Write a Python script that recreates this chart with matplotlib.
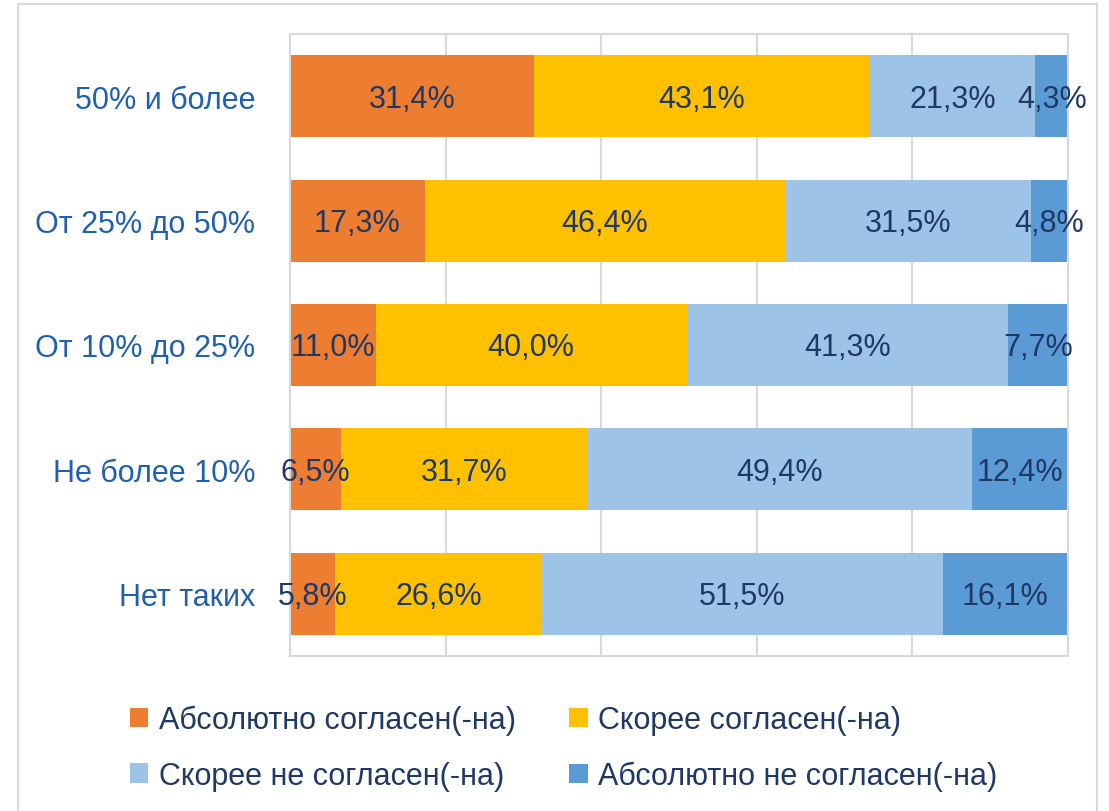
import numpy as np
import matplotlib
matplotlib.use("Agg")
from matplotlib import pyplot as plt
from matplotlib.patches import Rectangle

plt.rcParams["font.family"] = ["Liberation Sans", "DejaVu Sans"]

# data, top to bottom
categories = ["50% и более", "От 25% до 50%", "От 10% до 25%", "Не более 10%", "Нет таких"]
series_names = [
    "Абсолютно согласен(-на)",
    "Скорее согласен(-на)",
    "Скорее не согласен(-на)",
    "Абсолютно не согласен(-на)",
]
abs_agree = [31.4, 17.3, 11.0, 6.5, 5.8]
rather_agree = [43.1, 46.4, 40.0, 31.7, 26.6]
rather_disagree = [21.3, 31.5, 41.3, 49.4, 51.5]
abs_disagree = [4.3, 4.8, 7.7, 12.4, 16.1]

colors = ["#ED7D31", "#FFC000", "#9DC3E6", "#5B9BD5"]
label_color = "#1F3864"
cat_color = "#2160AD"
grid_color = "#D9D9D9"

fig = plt.figure(figsize=(11.09, 8.12), dpi=100)
ax = fig.add_axes([0.2615, 0.1909, 0.7016, 0.766])

# outer frame of the chart
fig.patches.append(Rectangle((18 / 1109, -0.02), (1097 - 18) / 1109, 1.02 - 5 / 812,
                             transform=fig.transFigure, fill=False,
                             edgecolor="#D9D9D9", linewidth=1.5))

y = np.arange(len(categories))
left = np.zeros(len(categories))
bars = []
for name, vals, c in zip(series_names, [abs_agree, rather_agree, rather_disagree, abs_disagree], colors):
    vals = np.array(vals)
    bars.append(ax.barh(y, vals, left=left, height=0.66, color=c, label=name, zorder=2))
    for yi, l, v in zip(y, left, vals):
        ax.text(l + v / 2, yi + 0.02, f"{v:.1f}%".replace(".", ","), ha="center", va="center",
                fontsize=22, color=label_color, zorder=3)
    left += vals

ax.set_xlim(0, 100)
ax.set_ylim(len(categories) - 0.5, -0.5)
ax.set_yticks(y)
ax.set_yticklabels(categories, fontsize=22, color=cat_color)
ax.tick_params(axis="y", length=0, pad=25)
ax.set_xticks(np.arange(0, 101, 20))
ax.tick_params(axis="x", length=0, labelbottom=False)
ax.grid(axis="x", color=grid_color, linewidth=1.5, zorder=0)
for s in ax.spines.values():
    s.set_color(grid_color)
    s.set_linewidth(1.5)

# legend filled row by row like the original
order = [0, 2, 1, 3]
leg = fig.legend([bars[i] for i in order], [series_names[i] for i in order],
                 loc="upper left", bbox_to_anchor=(0.117, 0.131), ncol=2, frameon=False,
                 fontsize=22, handlelength=0.6, handleheight=0.6, handletextpad=0.35,
                 columnspacing=1.75, labelspacing=0.85, borderaxespad=0, borderpad=0)
for t in leg.get_texts():
    t.set_color(label_color)

fig.savefig("out.png", dpi=100)
